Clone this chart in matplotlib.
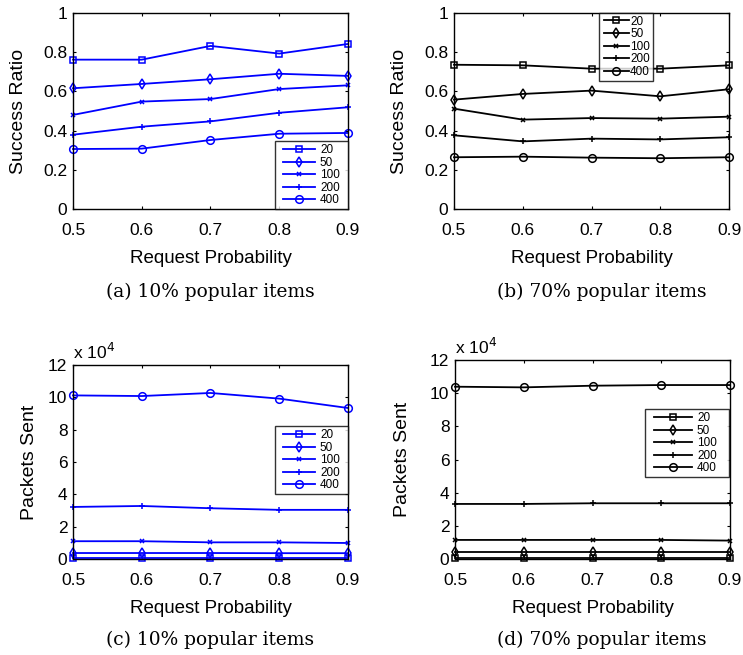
import matplotlib
matplotlib.use("Agg")
import matplotlib.pyplot as plt
from matplotlib.lines import Line2D
from matplotlib.legend_handler import HandlerLine2D

# --------------------------------
# DATA
# --------------------------------

prob = [0.5, 0.6, 0.7, 0.8, 0.9]
sizes = ["20", "50", "100", "200", "400"]
markers = ["s", "d", "x", "+", "o"]

# success ratio, 10% popular items
succ_10 = [
    [0.762, 0.762, 0.832, 0.793, 0.842],
    [0.616, 0.638, 0.662, 0.690, 0.679],
    [0.480, 0.548, 0.561, 0.612, 0.631],
    [0.379, 0.420, 0.447, 0.491, 0.519],
    [0.306, 0.308, 0.352, 0.384, 0.388],
]

# success ratio, 70% popular items
succ_70 = [
    [0.736, 0.733, 0.716, 0.716, 0.733],
    [0.558, 0.587, 0.604, 0.575, 0.611],
    [0.512, 0.456, 0.464, 0.461, 0.471],
    [0.376, 0.345, 0.359, 0.355, 0.366],
    [0.264, 0.267, 0.262, 0.259, 0.264],
]

# packets sent, 10% popular items
pkts_10 = [
    [800, 800, 800, 800, 800],
    [3700, 3700, 3700, 3600, 3600],
    [11000, 11000, 10300, 10300, 9900],
    [32200, 32800, 31400, 30400, 30400],
    [101200, 100800, 102700, 99200, 93400],
]

# packets sent, 70% popular items
pkts_70 = [
    [800, 800, 800, 800, 800],
    [4200, 4200, 4200, 4200, 4200],
    [11500, 11500, 11500, 11500, 11100],
    [33200, 33200, 33600, 33600, 33600],
    [103900, 103500, 104500, 104900, 104900],
]

captions = ["(a) 10% popular items", "(b) 70% popular items",
            "(c) 10% popular items", "(d) 70% popular items"]

# --------------------------------
# FIGURE
# --------------------------------

plt.rcParams["font.family"] = "Liberation Sans"

fig = plt.figure(figsize=(7.43, 6.55), dpi=100)

ax_a = fig.add_axes([73 / 743, 1 - 209 / 655, 275 / 743, 196 / 655])
ax_b = fig.add_axes([454 / 743, 1 - 209 / 655, 275 / 743, 196 / 655])
ax_c = fig.add_axes([73 / 743, 1 - 559 / 655, 275 / 743, 194 / 655])
ax_d = fig.add_axes([455 / 743, 1 - 559 / 655, 275 / 743, 199 / 655])

marker_size = {"s": 4.5, "d": 5, "x": 3.5, "+": 5, "o": 5.5}


def draw(ax, data, color, scale=1.0):
    for vals, mk, lab in zip(data, markers, sizes):
        ax.plot(prob, [v / scale for v in vals], color=color, marker=mk,
                markersize=marker_size[mk], markerfacecolor="none",
                markeredgewidth=1.1, linewidth=1.3, label=lab, clip_on=False)
    ax.set_xlim(0.5, 0.9)
    ax.set_xticks(prob)
    ax.set_xticklabels(["0.5", "0.6", "0.7", "0.8", "0.9"])
    ax.tick_params(direction="in", length=2.5, width=0.8, top=True, right=True,
                   labelsize=12.5)
    ax.tick_params(axis="x", pad=10)
    ax.tick_params(axis="y", pad=4)
    for s in ax.spines.values():
        s.set_linewidth(1.0)
    ax.set_xlabel("Request Probability", fontsize=13.5, labelpad=9)


draw(ax_a, succ_10, "#0000ff")
draw(ax_b, succ_70, "black")
draw(ax_c, pkts_10, "#0000ff", 1e4)
draw(ax_d, pkts_70, "black", 1e4)

for ax in (ax_a, ax_b):
    ax.set_ylim(0, 1)
    ax.set_yticks([0, 0.2, 0.4, 0.6, 0.8, 1])
    ax.set_yticklabels(["0", "0.2", "0.4", "0.6", "0.8", "1"])
    ax.set_ylabel("Success Ratio", fontsize=14, labelpad=12)

for ax, pad in ((ax_c, 7), (ax_d, 14)):
    ax.set_ylim(0, 12)
    ax.set_yticks([0, 2, 4, 6, 8, 10, 12])
    ax.set_ylabel("Packets Sent", fontsize=14, labelpad=pad)
    ax.text(0.0, 1.015, r"x 10$^4$", transform=ax.transAxes, fontsize=12.5,
            ha="left", va="bottom")

# --------------------------------
# LEGENDS
# --------------------------------

leg_fs = 8.5
leg_kw = dict(fontsize=leg_fs, frameon=True, fancybox=False, mode="expand",
              labelspacing=0.05, borderpad=0.22, borderaxespad=0)
# axes, bbox (x0, y0, w, h), loc, handle length, handle x-pad, text pad
boxes = [(ax_a, (0.7345, 0.0, 0.2655, 1.0), "lower left", 3.17, 0.46, 0.42),
         (ax_b, (0.527, 0.0, 0.196, 1.0), "upper left", 2.32, 0.2, 0.1),
         (ax_c, (0.7345, 0.335, 0.2655, 1.0), "lower left", 3.17, 0.46, 0.42),
         (ax_d, (0.691, 0.412, 0.305, 1.0), "lower left", 3.76, 0.54, 0.42)]
for ax, bbox, loc, hl, xp, tp in boxes:
    leg = ax.legend(loc=loc, bbox_to_anchor=bbox, handlelength=hl,
                    handletextpad=tp,
                    handler_map={Line2D: HandlerLine2D(xpad=xp)}, **leg_kw)
    leg.get_frame().set_edgecolor("black")
    leg.get_frame().set_linewidth(1.0)

# --------------------------------
# CAPTIONS
# --------------------------------

cap_pos = [(210, 292), (602, 292), (210, 640), (602, 640)]
for (cx, cy), cap in zip(cap_pos, captions):
    fig.text(cx / 743, 1 - cy / 655, cap, fontsize=13.4, family="DejaVu Serif",
             ha="center", va="center")

fig.savefig("out.png", dpi=100)
